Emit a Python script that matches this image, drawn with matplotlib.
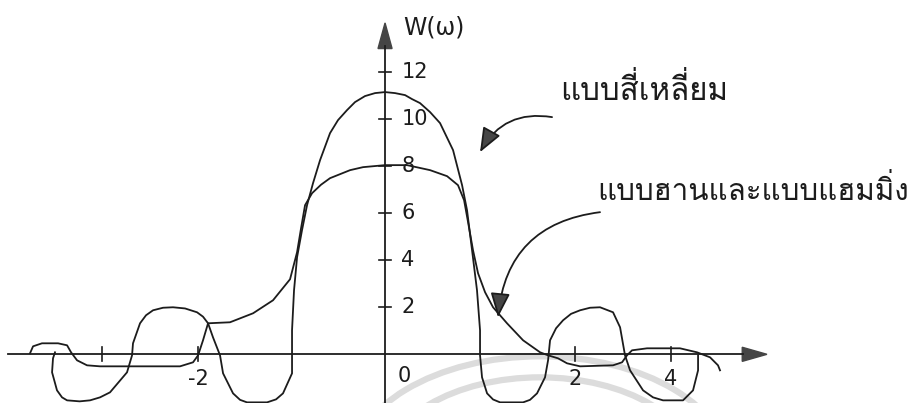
import matplotlib
matplotlib.use("Agg")
import matplotlib.pyplot as plt
from matplotlib.patches import Polygon, Arc

# rectangular window spectrum (sketch), w vs W(w)
rect_w = [-3.474, -3.495, -3.505, -3.453, -3.400, -3.347, -3.215, -3.105, -3.0, -2.895,
          -2.716, -2.663, -2.653, -2.579, -2.516, -2.442, -2.337, -2.232, -2.105, -1.979,
          -1.916, -1.863, -1.811, -1.737, -1.705, -1.600, -1.526, -1.453, -1.242, -1.147,
          -1.074, -0.979, -0.979, -0.979, -0.958, -0.926, -0.874, -0.821, -0.758, -0.684,
          -0.579, -0.495, -0.400, -0.316, -0.211, -0.105, 0.0, 0.105, 0.211, 0.284,
          0.368, 0.474, 0.579, 0.716, 0.811, 0.863, 0.916, 0.968, 1.000, 1.000,
          1.021, 1.074, 1.137, 1.211, 1.453, 1.526, 1.600, 1.684, 1.716, 1.737,
          1.800, 1.874, 1.958, 2.053, 2.158, 2.263, 2.400, 2.474, 2.526, 2.579,
          2.716, 2.821, 2.926, 3.137, 3.242, 3.295, 3.295]
rect_W = [0.085, -0.17, -0.766, -1.532, -1.83, -1.957, -2.0, -1.957, -1.83, -1.617,
          -0.766, -0.043, 0.468, 1.319, 1.66, 1.872, 1.98, 2.0, 1.95, 1.787,
          1.6, 1.319, 0.723, -0.043, -0.809, -1.66, -1.936, -2.043, -2.043, -1.915,
          -1.66, -0.809, 0.0, 1.021, 2.723, 4.128, 5.277, 6.34, 7.277, 8.255,
          9.404, 9.957, 10.383, 10.723, 10.979, 11.106, 11.149, 11.106, 11.02, 10.851,
          10.681, 10.298, 9.83, 8.681, 7.191, 6.128, 4.426, 2.723, 1.021, -0.043,
          -0.979, -1.66, -1.92, -2.043, -2.043, -1.936, -1.66, -0.979, -0.255, 0.596,
          1.106, 1.447, 1.72, 1.872, 1.98, 2.0, 1.787, 1.149, -0.043, -0.681,
          -1.532, -1.83, -1.957, -1.957, -1.532, -0.681, -0.043]

# Hann / Hamming window spectrum (sketch)
hann_w = [-3.737, -3.705, -3.611, -3.442, -3.347, -3.305, -3.242, -3.137, -3.0, -2.158,
          -2.021, -1.968, -1.916, -1.863, -1.632, -1.389, -1.179, -1.0, -0.926, -0.884,
          -0.842, -0.768, -0.674, -0.579, -0.368, -0.232, 0.0, 0.232, 0.474, 0.653,
          0.768, 0.832, 0.874, 0.926, 0.979, 1.053, 1.137, 1.284, 1.453, 1.632,
          1.716, 1.821, 1.916, 2.053, 2.400, 2.495, 2.547, 2.600, 2.758, 3.105,
          3.284, 3.421, 3.505, 3.526]
hann_W = [0.043, 0.34, 0.468, 0.468, 0.383, 0.085, -0.255, -0.468, -0.511, -0.511,
          -0.34, -0.043, 0.596, 1.319, 1.362, 1.745, 2.298, 3.191, 4.34, 5.362,
          6.34, 6.851, 7.21, 7.489, 7.83, 7.957, 8.043, 8.043, 7.83, 7.574,
          7.191, 6.553, 5.617, 4.426, 3.447, 2.638, 2.0, 1.319, 0.596, 0.085,
          -0.043, -0.17, -0.383, -0.511, -0.468, -0.34, -0.043, 0.17, 0.255, 0.255,
          0.085, -0.128, -0.468, -0.681]

x_ticks = [-2.98, -1.97, 2.0, 3.01]
x_tick_labels = ['', '-2', '2', '4']
y_ticks = [2, 4, 6, 8, 10, 12]

label_rect = 'แบบสี่เหลี่ยม'
label_hann = 'แบบฮานและแบบแฮมมิ่ง'

ink = '#1c1c1c'
head = '#454545'
thai_family = ['Loma', 'DejaVu Sans']

fig = plt.figure(figsize=(9.16, 4.03), dpi=100)
ax = fig.add_axes([0, 0, 1, 1])
ax.set_xlim(-4.053, 5.589)
ax.set_ylim(-2.07, 15.064)
ax.axis('off')

# faint watermark arcs behind the plot
ax.add_patch(Arc((1.632, -4.936), 4.0, 9.70, theta1=0, theta2=180, color='#dcdcdc', lw=4.5, zorder=0))
ax.add_patch(Arc((1.632, -4.936), 3.305, 7.915, theta1=0, theta2=180, color='#dcdcdc', lw=4.5, zorder=0))

# axes with arrow heads
ax.plot([-3.968, 3.77], [0, 0], color=ink, lw=1.3)
ax.add_patch(Polygon([[3.76, 0.30], [4.02, 0], [3.76, -0.30]], closed=True, fc=head, ec=head))
ax.plot([0, 0], [-2.1, 13.1], color=ink, lw=1.3)
ax.add_patch(Polygon([[-0.074, 13.0], [0, 14.09], [0.074, 13.0]], closed=True, fc=head, ec=head))

for xt, lab in zip(x_ticks, x_tick_labels):
    ax.plot([xt, xt], [-0.3, 0.3], color=ink, lw=1.2)
    if lab:
        ax.text(xt, -1.05, lab, ha='center', va='center', fontsize=15, color=ink)
for yt in y_ticks:
    ax.plot([-0.068, 0.068], [yt, yt], color=ink, lw=1.2)
    ax.text(0.17, yt, str(yt), ha='left', va='center', fontsize=15, color=ink)
ax.text(0.2, -0.94, '0', ha='center', va='center', fontsize=15, color=ink)
ax.text(0.19, 13.9, 'W(ω)', ha='left', va='center', fontsize=17, color=ink)

ax.plot(rect_w, rect_W, color=ink, lw=1.3, solid_joinstyle='round')
ax.plot(hann_w, hann_W, color=ink, lw=1.3, solid_joinstyle='round')

ax.text(1.842, 10.81, label_rect, ha='left', va='baseline', fontsize=22.5, color=ink, family=thai_family)
ax.text(2.232, 6.55, label_hann, ha='left', va='baseline', fontsize=21.3, color=ink, family=thai_family)

arrow_props = dict(arrowstyle='-|>,head_length=0.75,head_width=0.3', mutation_scale=20,
                   fc=head, ec=ink, lw=1.3, shrinkA=0, shrinkB=0)
ax.annotate('', xy=(1.0, 8.596), xytext=(1.758, 10.085),
            arrowprops=dict(connectionstyle='arc3,rad=0.35', **arrow_props))
ax.annotate('', xy=(1.189, 1.574), xytext=(2.263, 6.043),
            arrowprops=dict(connectionstyle='arc3,rad=0.4', **arrow_props))

fig.savefig('out.png', dpi=100)
